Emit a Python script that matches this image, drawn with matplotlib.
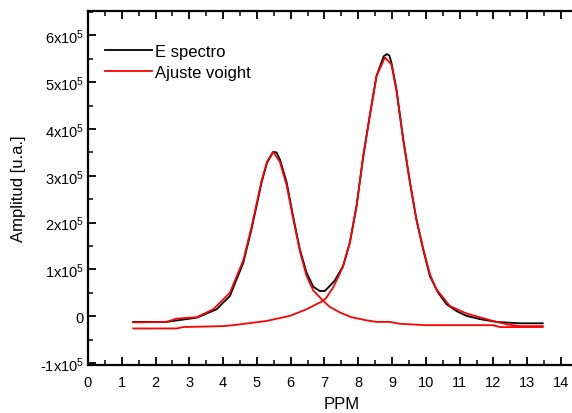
import numpy as np
import matplotlib.pyplot as plt
from matplotlib.ticker import MultipleLocator, FixedLocator, FuncFormatter

plt.rcParams['font.family'] = ['Liberation Sans', 'DejaVu Sans']
plt.rcParams['mathtext.fontset'] = 'custom'
plt.rcParams['mathtext.rm'] = 'Liberation Sans'
plt.rcParams['mathtext.it'] = 'Liberation Sans'

# espectro (x en ppm, amplitud en unidades de 1e5)
ppm_esp = [1.34, 2.33, 2.72, 3.22, 3.81, 4.0, 4.2, 4.4, 4.6, 4.84, 5.14, 5.3, 5.48, 5.58,
           5.68, 5.88, 6.07, 6.27, 6.47, 6.67, 6.86, 7.01, 7.16, 7.3, 7.55, 7.75, 7.95,
           8.15, 8.34, 8.54, 8.75, 8.84, 8.92, 8.98, 9.13, 9.33, 9.53, 9.72, 9.92, 10.12,
           10.36, 10.61, 10.91, 11.2, 11.6, 12.09, 12.78, 13.46]
amp_esp = [-0.12, -0.12, -0.08, -0.03, 0.15, 0.29, 0.43, 0.79, 1.15, 1.86, 2.86, 3.28, 3.51, 3.50,
           3.35, 2.86, 2.14, 1.43, 0.93, 0.63, 0.54, 0.54, 0.65, 0.76, 1.07, 1.57, 2.36,
           3.43, 4.28, 5.13, 5.55, 5.60, 5.57, 5.42, 4.85, 3.78, 2.86, 2.07, 1.43, 0.86,
           0.51, 0.26, 0.11, 0.01, -0.06, -0.12, -0.15, -0.15]

# ajuste voigt, pico 1
ppm_p1 = [1.34, 2.33, 2.62, 3.22, 3.71, 4.2, 4.6, 4.84, 5.14, 5.3, 5.48, 5.68, 5.88, 6.07,
          6.27, 6.47, 6.67, 6.96, 7.16, 7.46, 7.8, 8.2, 8.54, 8.93, 9.23, 10.0, 11.98, 12.19, 13.46]
amp_p1 = [-0.13, -0.12, -0.05, -0.02, 0.15, 0.5, 1.2, 1.9, 2.9, 3.3, 3.51, 3.3, 2.8, 2.1,
          1.4, 0.86, 0.55, 0.33, 0.2, 0.08, -0.02, -0.08, -0.12, -0.12, -0.16, -0.19, -0.19, -0.23, -0.23]

# ajuste voigt, pico 2
ppm_p2 = [1.34, 2.62, 2.82, 4.0, 4.3, 5.29, 5.98, 6.47, 6.77, 6.96, 7.06, 7.26, 7.46, 7.55,
          7.75, 7.95, 8.15, 8.34, 8.54, 8.79, 8.98, 9.13, 9.33, 9.53, 9.72, 9.92, 10.12,
          10.31, 10.71, 11.2, 11.98, 12.39, 12.78, 13.46]
amp_p2 = [-0.26, -0.26, -0.23, -0.21, -0.19, -0.10, 0.01, 0.15, 0.26, 0.33, 0.40, 0.62, 0.92, 1.07,
          1.57, 2.36, 3.43, 4.28, 5.13, 5.53, 5.38, 4.82, 3.78, 2.86, 2.07, 1.45, 0.9,
          0.58, 0.22, 0.06, -0.10, -0.17, -0.21, -0.21]

x_ticks = list(range(0, 15))

fig = plt.figure(figsize=(5.72, 4.14), dpi=100)
ax = fig.add_axes([0.1538, 0.116, 0.886, 0.855])

ax.plot(ppm_esp, np.array(amp_esp) * 1e5, color='black', lw=1.3, label='E spectro')
ax.plot(ppm_p1, np.array(amp_p1) * 1e5, color='red', lw=1.3, label='Ajuste voight')
ax.plot(ppm_p2, np.array(amp_p2) * 1e5, color='red', lw=1.3)

ax.set_xlim(0, 15)
ax.set_ylim(-1.04e5, 6.52e5)

ax.xaxis.set_major_locator(FixedLocator(x_ticks))
ax.xaxis.set_minor_locator(MultipleLocator(0.5))
ax.yaxis.set_major_locator(MultipleLocator(1e5))
ax.yaxis.set_minor_locator(MultipleLocator(0.5e5))


def yfmt(v, pos):
    n = int(round(v / 1e5))
    if n == 0:
        return '0'
    return '%dx10$^{5}$' % n


ax.yaxis.set_major_formatter(FuncFormatter(yfmt))

for s in ax.spines.values():
    s.set_linewidth(1.6)
ax.tick_params(which='major', direction='in', length=5.5, width=1.3, labelsize=10.5,
               top=True, right=True)
ax.tick_params(which='minor', direction='in', length=3.5, width=1.1, top=True, right=True)
ax.tick_params(axis='x', which='major', pad=7)
ax.tick_params(axis='y', which='major', pad=3)

ax.set_xlabel('PPM', fontsize=12, labelpad=5)
ax.set_ylabel('Amplitud [u.a.]', fontsize=12, labelpad=10)

ax.legend(loc='upper left', bbox_to_anchor=(0.034, 0.907), frameon=False, fontsize=12,
          handlelength=2.8, handletextpad=0.2, labelspacing=0.37, borderaxespad=0, borderpad=0)

fig.savefig('out.png', dpi=100)
